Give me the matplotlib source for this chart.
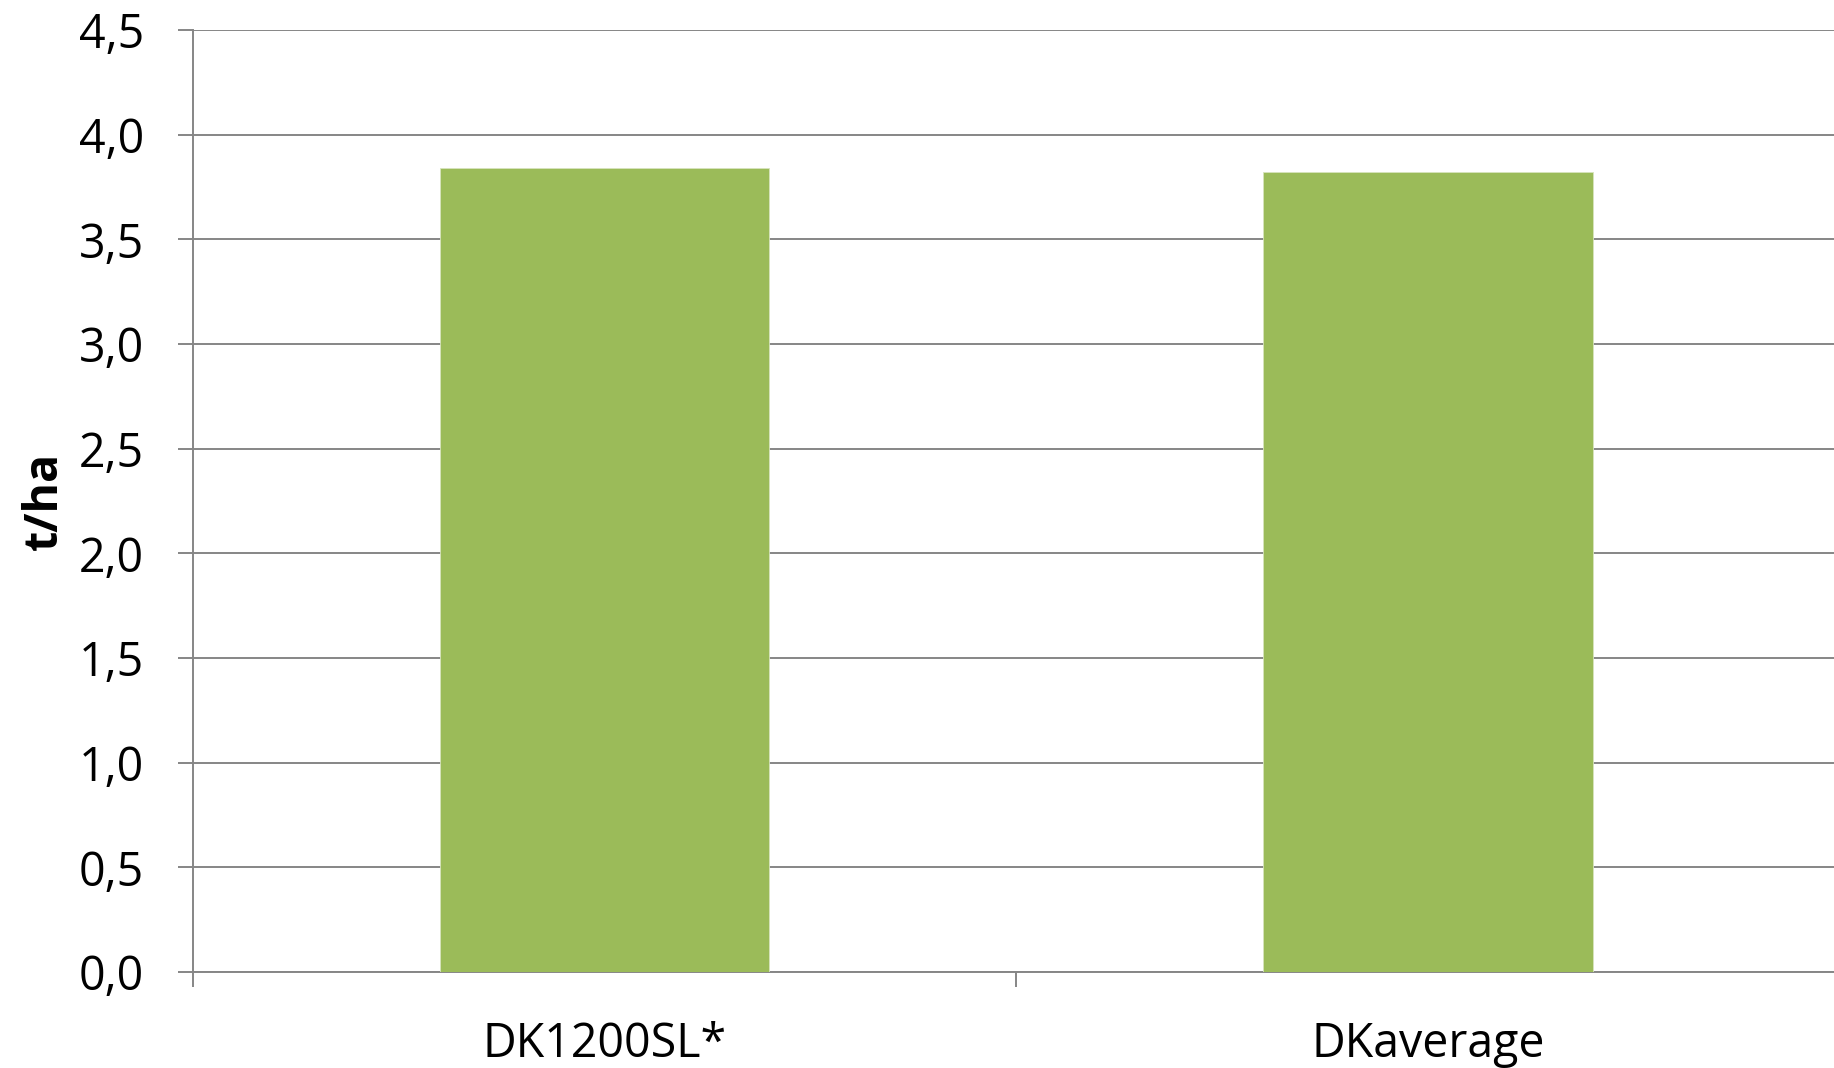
import numpy as np
import matplotlib.pyplot as plt
from matplotlib.ticker import FixedLocator

# data
kategorie = ['DK1200SL*', 'DKaverage']
plon = [3.84, 3.82]
y_ticks = [0.0, 0.5, 1.0, 1.5, 2.0, 2.5, 3.0, 3.5, 4.0, 4.5]

plt.rcParams['font.family'] = ['Open Sans', 'DejaVu Sans']

fig = plt.figure(figsize=(18.34, 10.68), dpi=100)
ax = fig.add_axes([0.1052, 0.0899, 0.8979, 0.8820])

x = np.arange(len(kategorie))
ax.bar(x, plon, width=0.4, color='#9BBB59', edgecolor='#D7E4BD', linewidth=0.6, zorder=3)

ax.set_xlim(-0.5, len(kategorie) - 0.5)
ax.set_ylim(0, 4.5)
ax.set_yticks(y_ticks)
ax.set_yticklabels([('%.1f' % v).replace('.', ',') for v in y_ticks])
ax.set_xticks(x)
ax.set_xticklabels(kategorie)
ax.xaxis.set_minor_locator(FixedLocator(np.arange(-0.5, len(kategorie), 1.0)))

ax.grid(axis='y', color='#868686', linewidth=1.4, zorder=0)
ax.tick_params(axis='y', length=11, width=1.4, color='#868686', pad=24, labelsize=33.5)
ax.tick_params(axis='x', which='major', length=0, pad=35, labelsize=33.5)
ax.tick_params(axis='x', which='minor', length=11, width=1.4, color='#868686')

for s in ['top', 'right']:
    ax.spines[s].set_visible(False)
ax.spines['left'].set_color('#868686')
ax.spines['left'].set_linewidth(1.4)
ax.spines['bottom'].set_color('#868686')
ax.spines['bottom'].set_linewidth(1.4)

ax.set_ylabel('t/ha', fontsize=33.5, fontweight='bold')
ax.yaxis.set_label_coords(-0.076, 0.5)

fig.savefig('out.png', dpi=100)
